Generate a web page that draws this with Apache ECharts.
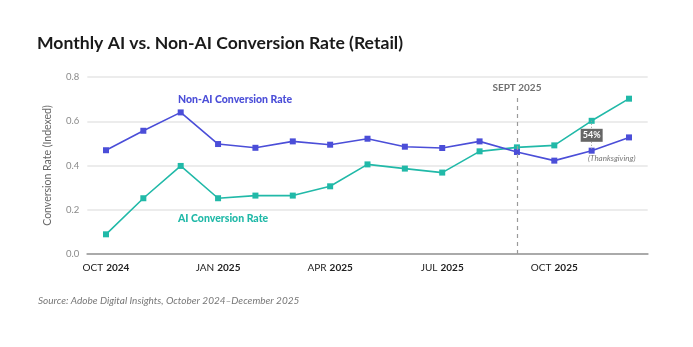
<!DOCTYPE html>
<html>
<head>
<meta charset="utf-8">
<script src="https://cdn.jsdelivr.net/npm/echarts@6/dist/echarts.min.js"></script>
<style>
html,body{margin:0;padding:0;background:#fff;}
#chart{width:693px;height:347px;}
</style>
</head>
<body>
<div id="chart"></div>
<script>
var months = ['OCT 2024','NOV 2024','DEC 2024','JAN 2025','FEB 2025','MAR 2025','APR 2025','MAY 2025','JUN 2025','JUL 2025','AUG 2025','SEP 2025','OCT 2025','NOV 2025','DEC 2025'];
var tickMonths = {'OCT 2024':1,'JAN 2025':1,'APR 2025':1,'JUL 2025':1,'OCT 2025':1};
var nonAI = [0.469,0.557,0.640,0.497,0.480,0.509,0.494,0.521,0.485,0.479,0.509,0.461,0.422,0.467,0.527];
var aiRate = [0.089,0.252,0.398,0.252,0.264,0.264,0.306,0.405,0.386,0.368,0.464,0.482,0.491,0.602,0.702];
var yTicks = [0, 0.2, 0.4, 0.6, 0.8];
var markerMonth = 'SEP 2025';
var holidayMonth = 'NOV 2025';
var holidayIdx = months.indexOf(holidayMonth);

var BLUE = '#4b4ed8';
var TEAL = '#21b9a8';
var FONT = 'Lato, "Open Sans", sans-serif';

var chart = echarts.init(document.getElementById('chart'), null, {renderer:'canvas'});
chart.setOption({
  animation:false,
  backgroundColor:'#fff',
  textStyle:{fontFamily:FONT},
  title:{
    text:'Monthly AI vs. Non-AI Conversion Rate (Retail)',
    left:32, top:29,
    textStyle:{fontFamily:FONT, fontSize:17.6, fontWeight:'bold', color:'#1a1a1a'}
  },
  grid:{left:87.3, right:45.3, top:77, bottom:93},
  xAxis:{
    type:'category',
    data:months,
    boundaryGap:true,
    axisLine:{lineStyle:{color:'#aaaaaa', width:2}},
    axisTick:{show:false},
    axisLabel:{
      interval:0, margin:8,
      formatter:function(v){
        if(!tickMonths[v]) return '';
        var p = v.split(' ');
        return '{m|'+p[0]+'} {y|'+p[1]+'}';
      },
      rich:{
        m:{fontFamily:FONT, fontSize:10, color:'#222'},
        y:{fontFamily:FONT, fontSize:10, fontWeight:'bold', color:'#222'}
      }
    }
  },
  yAxis:{
    type:'value', min:0, max:0.8, interval:0.2,
    name:'Conversion Rate (Indexed)',
    nameLocation:'middle', nameGap:34,
    nameTextStyle:{fontFamily:FONT, fontSize:10.5, color:'#666'},
    axisLine:{show:false}, axisTick:{show:false},
    axisLabel:{margin:8, color:'#8a8a8a', fontSize:9.5, formatter:function(v){return v.toFixed(1);}},
    splitLine:{lineStyle:{color:'#e6e6e6', width:1.5}}
  },
  series:[
    {
      name:'Non-AI Conversion Rate', type:'line', data:nonAI,
      symbol:'rect', symbolSize:6,
      lineStyle:{color:BLUE, width:1.6},
      itemStyle:{color:BLUE},
      markLine:{
        silent:true, symbol:'none', label:{show:false},
        data:[
          [{coord:[holidayMonth, aiRate[holidayIdx]]},{coord:[holidayMonth, nonAI[holidayIdx]]}]
        ],
        lineStyle:{color:'#999', type:[1,2], width:1}
      },
      z:3
    },
    {
      name:'AI Conversion Rate', type:'line', data:aiRate,
      symbol:'rect', symbolSize:6,
      lineStyle:{color:TEAL, width:1.6},
      itemStyle:{color:TEAL},
      markLine:{
        silent:true, symbol:'none',
        data:[
          [{coord:[markerMonth, 0]},{coord:[markerMonth, 0.71]}]
        ],
        lineStyle:{color:'#9a9a9a', type:[4,4], width:1.2},
        label:{show:true, position:'end', formatter:'SEPT 2025', fontFamily:FONT, fontSize:10, fontWeight:'bold', color:'#707070', distance:4}
      },
      markPoint:{
        symbol:'rect', symbolSize:[22,13], symbolOffset:[0,0],
        itemStyle:{color:'#666'},
        label:{show:true, formatter:'54%', color:'#fff', fontFamily:FONT, fontSize:9, fontWeight:'bold'},
        data:[{coord:[holidayMonth, (aiRate[holidayIdx]+nonAI[holidayIdx])/2 + 0.002]}]
      },
      z:2
    }
  ],
  graphic:[
    {type:'text', left:178, top:94, style:{text:'Non-AI Conversion Rate', fill:BLUE, font:'900 10.5px '+FONT}},
    {type:'text', left:178, top:213, style:{text:'AI Conversion Rate', fill:TEAL, font:'900 10.5px '+FONT}},
    {type:'text', left:588, top:154, style:{text:'(Thanksgiving)', fill:'#777', font:'italic 8px '+FONT}},
    {type:'text', left:38, top:296, style:{text:'Source: Adobe Digital Insights, October 2024\u2013December 2025', fill:'#777', font:'italic 10px '+FONT}}
  ]
});
</script>
</body>
</html>
